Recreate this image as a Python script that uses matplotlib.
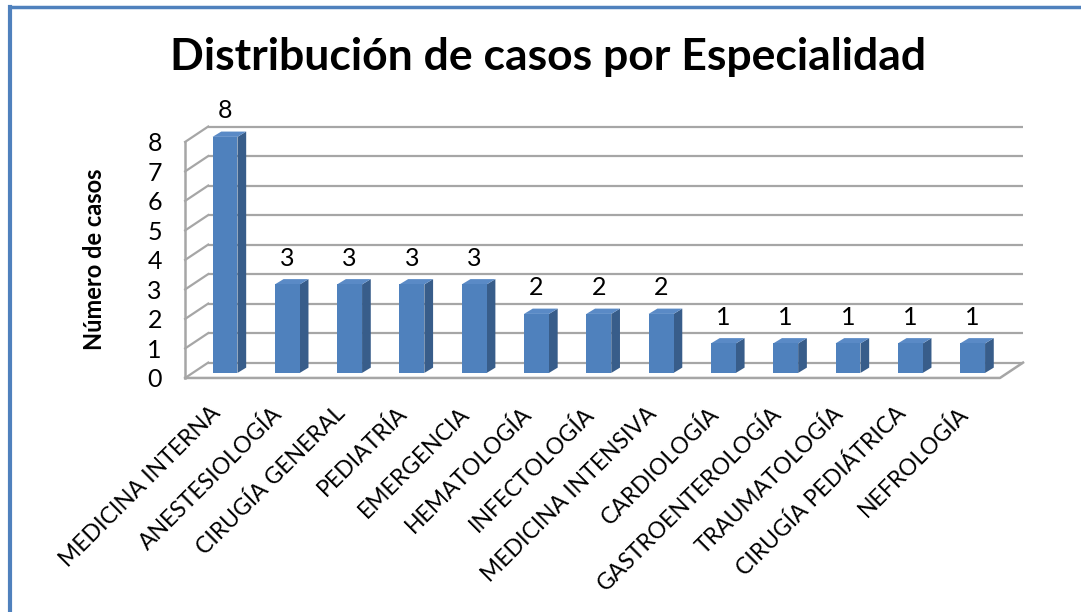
import matplotlib
matplotlib.use("Agg")
import matplotlib.pyplot as plt
import matplotlib.transforms as mtransforms
from matplotlib.patches import Polygon
from matplotlib.lines import Line2D
import numpy as np

plt.rcParams['font.family'] = ['Lato', 'DejaVu Sans']

especialidades = ["MEDICINA INTERNA", "ANESTESIOLOGÍA", "CIRUGÍA GENERAL", "PEDIATRÍA",
                  "EMERGENCIA", "HEMATOLOGÍA", "INFECTOLOGÍA", "MEDICINA INTENSIVA",
                  "CARDIOLOGÍA", "GASTROENTEROLOGÍA", "TRAUMATOLOGÍA",
                  "CIRUGÍA PEDIÁTRICA", "NEFROLOGÍA"]
casos = [8, 3, 3, 3, 3, 2, 2, 2, 1, 1, 1, 1, 1]
niveles = list(range(0, 9))

# colores estilo Excel
azul = '#4F81BD'
azul_lado = '#385D8A'
azul_tapa = '#5A8AC6'
gris = '#A6A6A6'

# geometria del falso 3D (en unidades de datos)
x_front = -0.64          # eje frontal izquierdo
x_fin_front = 12.44      # borde frontal derecho del piso
DX, DY = 0.37, 0.52      # profundidad de la pared trasera
base = 0.17              # base de las barras
ancho = 0.40
bdx, bdy = 0.14, 0.18    # profundidad de las barras

fig = plt.figure(figsize=(10.81, 6.12), dpi=100)
ax = fig.add_axes([0.1678, 0.3752, 0.7809, 0.4291])
ax.set_xlim(-0.7, 12.85)
ax.set_ylim(-0.15, 8.75)
for s in ax.spines.values():
    s.set_visible(False)

x = np.arange(len(casos))

# pared trasera y lateral
for k in niveles:
    ax.plot([x_front + DX, x_fin_front + DX], [k + DY, k + DY], color=gris, lw=1.6, zorder=1,
            solid_capstyle='butt')
    ax.plot([x_front, x_front + DX], [k, k + DY], color=gris, lw=1.6, zorder=1)
ax.plot([x_front, x_front], [0, 8], color=gris, lw=1.8, zorder=1)
# piso
ax.plot([x_front, x_fin_front, x_fin_front + DX], [0, 0, DY], color=gris, lw=1.8, zorder=1)

# barras
ax.bar(x, casos, bottom=base, width=ancho, color=azul, zorder=3)
for xi, v in zip(x, casos):
    x0, x1 = xi - ancho / 2, xi + ancho / 2
    top = base + v
    lado = Polygon([[x1, base], [x1 + bdx, base + bdy], [x1 + bdx, top + bdy], [x1, top]],
                   closed=True, facecolor=azul_lado, edgecolor='none', zorder=2)
    tapa = Polygon([[x0, top], [x1, top], [x1 + bdx, top + bdy], [x0 + bdx, top + bdy]],
                   closed=True, facecolor=azul_tapa, edgecolor='none', zorder=2)
    ax.add_patch(lado)
    ax.add_patch(tapa)
    ax.text(xi, v + 1.05, str(v), ha='center', va='center', fontsize=18)

ax.set_yticks(niveles)
ax.set_yticklabels([str(k) for k in niveles], fontsize=18)
ax.tick_params(axis='y', length=0, pad=14)
ax.set_xticks(x)
ax.set_xticklabels(especialidades, rotation=45, ha='right', va='center',
                   rotation_mode='anchor', fontsize=16.5)
ax.tick_params(axis='x', length=0, pad=20)
desplazar = mtransforms.ScaledTranslation(-8 / 100, 0, fig.dpi_scale_trans)
for lab in ax.get_xticklabels():
    lab.set_transform(lab.get_transform() + desplazar)

fig.text(548 / 1081, 1 - 57 / 612, "Distribución de casos por Especialidad",
         ha='center', va='center', fontsize=32, fontweight='bold')
fig.text(95 / 1081, 1 - 259 / 612, "Número de casos", rotation=90,
         ha='center', va='center', fontsize=17, fontweight='bold')

# marco azul
fig.add_artist(Line2D([10 / 1081, 1], [1 - 7 / 612, 1 - 7 / 612], transform=fig.transFigure,
                      color=azul, lw=2.5))
fig.add_artist(Line2D([10 / 1081, 10 / 1081], [0, 1 - 7 / 612], transform=fig.transFigure,
                      color=azul, lw=3))

fig.savefig("out.png", dpi=100)
